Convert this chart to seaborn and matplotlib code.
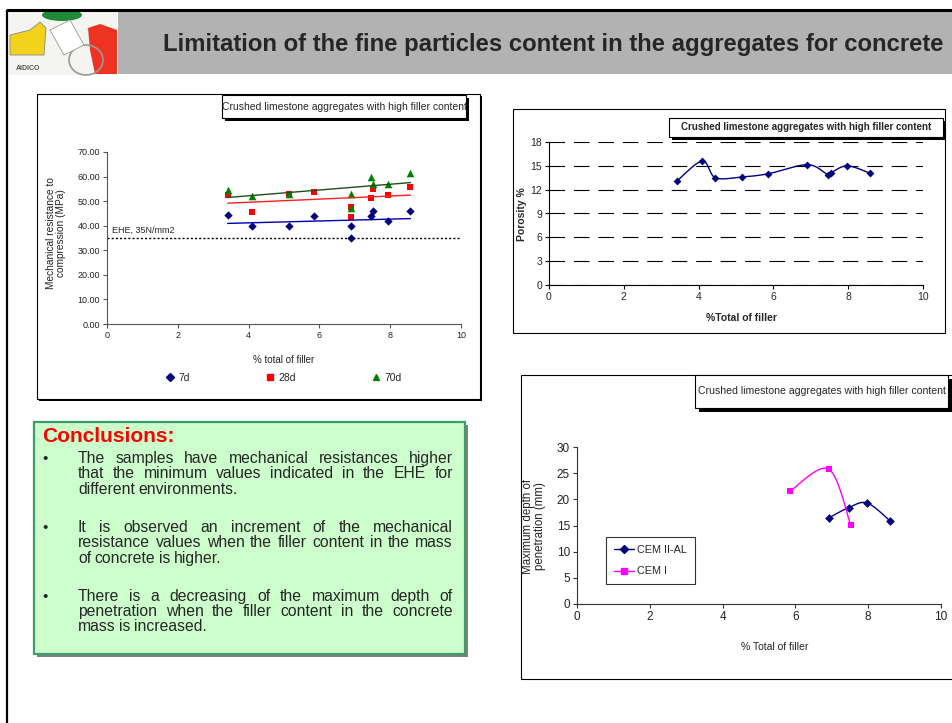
import numpy as np
import pandas as pd
import matplotlib
matplotlib.use("Agg")
import matplotlib.pyplot as plt
import seaborn as sns
from matplotlib.patches import Rectangle, Polygon, Ellipse
from matplotlib.lines import Line2D

sns.set_theme(style="white")
plt.rcParams['font.family'] = ['Liberation Sans', 'DejaVu Sans']
NARROW = ['Liberation Sans Narrow', 'Liberation Sans', 'DejaVu Sans']

# ---- data ----
# chart 1: compressive strength vs filler
filler = [3.41, 4.10, 5.14, 5.86, 6.90, 6.90, 7.45, 7.52, 7.95, 8.57]
res_7d = [44.5, 39.7, 39.7, 44.1, 39.7, 35.2, 44.1, 45.8, 42.1, 45.8]
res_28d = [52.5, 45.5, 52.9, 53.9, 47.5, 43.5, 51.3, 55.0, 52.7, 55.8]
filler_70d = [3.41, 4.10, 5.14, 6.90, 6.90, 7.45, 7.52, 7.95, 8.57]
res_70d = [54.7, 52.0, 52.9, 53.0, 47.4, 59.8, 57.1, 56.9, 61.6]
ehe_limit = 35
ehe_label = "EHE, 35N/mm2"

# chart 2: porosity
por_filler = [3.42, 4.10, 4.45, 5.16, 5.86, 6.91, 7.45, 7.53, 7.97, 8.57]
porosity = [13.1, 15.6, 13.5, 13.6, 14.0, 15.15, 13.9, 14.1, 15.0, 14.1]

# chart 3: depth of penetration
cem2_filler = [6.93, 7.46, 7.97, 8.60]
cem2_depth = [16.5, 18.4, 19.3, 15.9]
cem1_filler = [5.86, 6.91, 7.52]
cem1_depth = [21.6, 25.8, 15.1]

box_title = "Crushed limestone aggregates with high filler content"
slide_title = "Limitation of the fine particles content in the aggregates for concrete"
conclusions = [
    ["The samples have mechanical resistances higher",
     "that the minimum values indicated in the EHE for",
     "different environments."],
    ["It is observed an increment of the mechanical",
     "resistance values when the filler content in the mass",
     "of concrete is higher."],
    ["There is a decreasing of the maximum depth of",
     "penetration when the filler content in the concrete",
     "mass is increased."],
]

W, H = 953, 723
fig = plt.figure(figsize=(W / 100, H / 100), dpi=100)
fig.patch.set_facecolor("white")


def px_axes(x0, y0, x1, y1):
    return fig.add_axes([x0 / W, 1 - y1 / H, (x1 - x0) / W, (y1 - y0) / H])


def smooth(xs, ys, n=25):
    # excel-like smoothed line through the points
    p = np.column_stack([xs, ys]).astype(float)
    out = [p[0]]
    t = np.linspace(0, 1, n)[1:, None]
    for i in range(len(p) - 1):
        p0 = p[i - 1] if i > 0 else p[i]
        p3 = p[i + 2] if i + 2 < len(p) else p[i + 1]
        c1 = p[i] + (p[i + 1] - p0) / 6
        c2 = p[i + 1] - (p3 - p[i]) / 6
        seg = (1 - t) ** 3 * p[i] + 3 * (1 - t) ** 2 * t * c1 + 3 * (1 - t) * t ** 2 * c2 + t ** 3 * p[i + 1]
        out.extend(seg)
    out = np.array(out)
    return out[:, 0], out[:, 1]


# ---- background layer in pixel coordinates ----
bg = fig.add_axes([0, 0, 1, 1])
bg.set_xlim(0, W)
bg.set_ylim(H, 0)
bg.axis("off")

# header
bg.add_patch(Rectangle((118, 12), 835, 62, fc="#b2b2b2", ec="none"))
bg.plot([6, 953], [10, 10], color="black", lw=2.2, solid_capstyle="butt")
bg.plot([7, 7], [10, 723], color="black", lw=1.6, solid_capstyle="butt")
bg.text(163, 44, slide_title, fontsize=17.2, fontweight="bold", va="center", ha="left")

# logo (rough)
bg.add_patch(Rectangle((9, 12), 108, 63, fc="#f4f4f0", ec="none"))
bg.add_patch(Polygon([[10, 35], [30, 30], [40, 22], [46, 28], [44, 55], [10, 55]], fc="#f2d21a", ec="#888888", lw=0.6))
bg.add_patch(Polygon([[88, 28], [100, 24], [117, 30], [117, 74], [95, 74], [90, 50]], fc="#ee3322", ec="none"))
bg.add_patch(Ellipse((62, 15), 40, 12, fc="#1f8a3a", ec="none"))
bg.add_patch(Ellipse((86, 60), 34, 30, fc="none", ec="#999999", lw=1.2))
bg.add_patch(Polygon([[50, 30], [70, 20], [84, 45], [64, 55]], fc="white", ec="#999999", lw=0.6))
bg.text(16, 68, "AIDICO", fontsize=5, fontweight="bold", color="#555555", va="center")

# chart frames
bg.add_patch(Rectangle((39, 96), 443, 305, fc="black", ec="none"))
bg.add_patch(Rectangle((37, 94), 443, 305, fc="white", ec="black", lw=0.8))
bg.add_patch(Rectangle((513, 109), 432, 224, fc="white", ec="black", lw=0.8))
bg.add_patch(Rectangle((521, 375), 440, 304, fc="white", ec="black", lw=0.8))

# title boxes with shadows
for (x0, y0, x1, y1, sh, fs, fw) in [
    (222, 95, 466, 118, 3, 7.5, "normal"),
    (669, 118, 943, 137, 3, 7.0, "bold"),
    (695, 375, 948, 408, 4, 7.6, "normal"),
]:
    bg.add_patch(Rectangle((x0 + sh, y0 + sh), x1 - x0, y1 - y0, fc="black", ec="none"))
    bg.add_patch(Rectangle((x0, y0), x1 - x0, y1 - y0, fc="white", ec="black", lw=0.8))
    bg.text((x0 + x1) / 2, (y0 + y1) / 2, box_title, fontsize=fs, fontweight=fw,
            ha="center", va="center")

# conclusions box
bg.add_patch(Rectangle((37, 425), 431, 232, fc="#808080", ec="none"))
bg.add_patch(Rectangle((34, 422), 431, 232, fc="#ccffcc", ec="#3c9c6c", lw=1.6))
bg.text(42, 436, "Conclusions:", fontsize=15, fontweight="bold", color="#ff0000", va="center")

renderer = fig.canvas.get_renderer()
line_y = [[463, 478, 494], [532, 547, 563], [601, 616, 631]]  # baselines
for para, ys in zip(conclusions, line_y):
    bg.text(45, ys[0], "\u2022", fontsize=11, va="baseline", ha="center")
    for k, (line, y) in enumerate(zip(para, ys)):
        words = line.split()
        texts = [bg.text(0, y, w, fontsize=11.3, va="baseline", ha="left") for w in words]
        widths = [t.get_window_extent(renderer).width for t in texts]
        if k < len(para) - 1 and len(words) > 1:
            gap = max((453 - 78 - sum(widths)) / (len(words) - 1), 2.0)
        else:
            gap = 3.6
        x = 78
        for t, w in zip(texts, widths):
            t.set_x(x)
            x += w + gap

# ---- chart 1: mechanical resistance ----
ax1 = px_axes(107, 152, 461, 324)
ax1.set_facecolor("none")
df7 = pd.DataFrame({"x": filler, "y": res_7d})
df28 = pd.DataFrame({"x": filler, "y": res_28d})
df70 = pd.DataFrame({"x": filler_70d, "y": res_70d})
ax1.axhline(ehe_limit, color="black", lw=1, ls=(0, (1.5, 1.5)))
ax1.text(0.15, ehe_limit + 1.5, ehe_label, fontsize=6.5, family=NARROW, va="bottom")
sns.regplot(data=df7, x="x", y="y", scatter=False, ci=None, truncate=True, ax=ax1,
            line_kws=dict(color="#0000aa", lw=1))
sns.regplot(data=df28, x="x", y="y", scatter=False, ci=None, truncate=True, ax=ax1,
            line_kws=dict(color="#ff2020", lw=1))
sns.regplot(data=df70, x="x", y="y", scatter=False, ci=None, truncate=True, ax=ax1,
            line_kws=dict(color="#1e4d1e", lw=1))
sns.scatterplot(data=df7, x="x", y="y", marker="D", color="#000080", s=18, linewidth=0, ax=ax1)
sns.scatterplot(data=df28, x="x", y="y", marker="s", color="#ff0000", s=24, linewidth=0, ax=ax1)
sns.scatterplot(data=df70, x="x", y="y", marker="^", color="#008000", s=30, linewidth=0, ax=ax1)
ax1.set_xlim(0, 10)
ax1.set_ylim(0, 70)
ax1.set_xticks(range(0, 11, 2))
ax1.set_yticks(range(0, 71, 10))
ax1.set_yticklabels([f"{v:.2f}" for v in range(0, 71, 10)])
ax1.set_xlabel("")
ax1.set_ylabel("")
for s in ["top", "right"]:
    ax1.spines[s].set_visible(False)
for s in ["left", "bottom"]:
    ax1.spines[s].set_color("#555555")
    ax1.spines[s].set_linewidth(0.8)
ax1.tick_params(left=True, bottom=True, direction="out", length=3, width=0.8,
                color="#555555", labelsize=6.5, pad=2, labelcolor="#222222")
fig.text(284 / W, 1 - 360 / H, "% total of filler", fontsize=7, family=NARROW,
         ha="center", va="center", color="#222222")
fig.text(56 / W, 1 - 233 / H, "Mechanical resistance to\ncompression (MPa)", fontsize=7.3,
         rotation=90, ha="center", va="center", color="#222222", linespacing=1.1)
h1 = [Line2D([], [], ls="none", marker="D", color="#000080", ms=4),
      Line2D([], [], ls="none", marker="s", color="#ff0000", ms=4.5),
      Line2D([], [], ls="none", marker="^", color="#008000", ms=5)]
fig.legend(h1, ["7d", "28d", "70d"], loc="center", bbox_to_anchor=(284 / W, 1 - 378 / H),
           ncol=3, frameon=False, prop=dict(family=NARROW, size=7.5),
           handlelength=0.8, handletextpad=0.4, columnspacing=7.3)

# ---- chart 2: porosity ----
ax2 = px_axes(549, 142, 923, 285)
ax2.set_facecolor("none")
cx, cy = smooth(por_filler, porosity)
sns.lineplot(x=cx, y=cy, sort=False, estimator=None, color="#000080", lw=1, ax=ax2)
sns.scatterplot(x=por_filler, y=porosity, marker="D", color="#000080", s=16, linewidth=0, ax=ax2)
ax2.set_xlim(0, 10)
ax2.set_ylim(0, 18)
ax2.set_xticks(range(0, 11, 2))
ax2.set_yticks(range(0, 19, 3))
ax2.yaxis.grid(True, color="black", lw=0.8, ls=(0, (14, 8)))
ax2.xaxis.grid(False)
for s in ["top", "right"]:
    ax2.spines[s].set_visible(False)
for s in ["left", "bottom"]:
    ax2.spines[s].set_color("black")
    ax2.spines[s].set_linewidth(0.8)
ax2.tick_params(left=True, bottom=True, direction="out", length=3, width=0.8,
                color="black", labelsize=7.5, pad=2)
fig.text(741 / W, 1 - 318 / H, "%Total of filler", fontsize=7.5, fontweight="bold",
         ha="center", va="center")
fig.text(522 / W, 1 - 214 / H, "Porosity %", fontsize=7.5, fontweight="bold",
         rotation=90, ha="center", va="center")

# ---- chart 3: depth of penetration ----
ax3 = px_axes(577, 447, 941, 604)
ax3.set_facecolor("none")
c2x, c2y = smooth(cem2_filler, cem2_depth)
c1x, c1y = smooth(cem1_filler, cem1_depth)
sns.lineplot(x=c2x, y=c2y, sort=False, estimator=None, color="#000080", lw=1, ax=ax3)
sns.lineplot(x=c1x, y=c1y, sort=False, estimator=None, color="#ff00ff", lw=1, ax=ax3)
sns.scatterplot(x=cem2_filler, y=cem2_depth, marker="D", color="#000080", s=20, linewidth=0, ax=ax3)
sns.scatterplot(x=cem1_filler, y=cem1_depth, marker="s", color="#ff00ff", s=24, linewidth=0, ax=ax3)
ax3.set_xlim(0, 10)
ax3.set_ylim(0, 30)
ax3.set_xticks(range(0, 11, 2))
ax3.set_yticks(range(0, 31, 5))
for s in ["top", "right"]:
    ax3.spines[s].set_visible(False)
for s in ["left", "bottom"]:
    ax3.spines[s].set_color("#333333")
    ax3.spines[s].set_linewidth(0.8)
ax3.tick_params(left=True, bottom=True, direction="out", length=3, width=0.8,
                color="#333333", labelsize=8.5, pad=2, labelcolor="#222222")
fig.text(775 / W, 1 - 647 / H, "% Total of filler", fontsize=7.5,
         ha="center", va="center", color="#222222")
fig.text(534 / W, 1 - 526 / H, "Maximum depth of\npenetration (mm)", fontsize=8.3,
         rotation=90, ha="center", va="center", color="#222222", linespacing=0.95)
h3 = [Line2D([], [], color="#000080", lw=1, marker="D", ms=4.5),
      Line2D([], [], color="#ff00ff", lw=1, marker="s", ms=4.5)]
leg = ax3.legend(h3, ["CEM II-AL", "CEM I"], loc="upper left",
                 bbox_to_anchor=((606 - 577) / 364, (604 - 537) / 157),
                 frameon=True, fancybox=False, prop=dict(size=7.8),
                 handlelength=1.9, handletextpad=0.3, borderpad=0.7, labelspacing=1.1,
                 borderaxespad=0)
leg.get_frame().set_edgecolor("black")
leg.get_frame().set_linewidth(0.8)

fig.savefig("out.png", dpi=100)
